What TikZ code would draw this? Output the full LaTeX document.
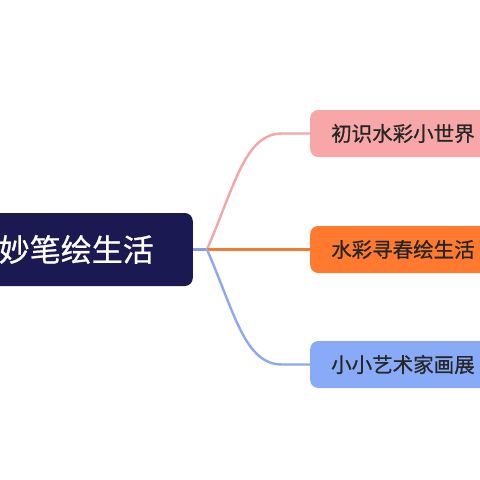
\documentclass[tikz,border=0pt]{standalone}
\usepackage{fontspec}
\newfontfamily\cjk{Noto Sans CJK SC}[FakeBold=0.8]
\definecolor{navy}{HTML}{1B1951}
\definecolor{pinkfill}{HTML}{F8A7A9}
\definecolor{orangefill}{HTML}{FF7A2F}
\definecolor{bluefill}{HTML}{88AAF7}
\definecolor{pinkline}{HTML}{F4A6A6}
\definecolor{orangeline}{HTML}{F47A30}
\definecolor{blueline}{HTML}{8FA8F2}
\definecolor{rootline}{HTML}{8E9AE4}
\begin{document}
\begin{tikzpicture}[x=1pt,y=-1pt,
  topic/.style={rounded corners=8pt, minimum height=47pt, inner xsep=21pt, anchor=west,
    font=\cjk\fontsize{20.5pt}{24pt}\selectfont, text=black!85},
  conn/.style={line width=2.4pt}]
\useasboundingbox (0,0) rectangle (480,480);
\fill[white] (0,0) rectangle (480,480);
\node[fill=navy, rounded corners=8pt, minimum height=73pt, inner xsep=39pt, anchor=east,
  font=\cjk\fontsize{31pt}{36pt}\selectfont, text=white] (root) at (193,249.5) {妙笔绘生活};
\node[topic, fill=pinkfill] (n1) at (310,133.5) {初识水彩小世界};
\node[topic, fill=orangefill] (n2) at (310,249.5) {水彩寻春绘生活};
\node[topic, fill=bluefill] (n3) at (310,364.5) {小小艺术家画展};
\coordinate (b) at (207,249.5);
\coordinate (p1) at (282,133.5);
\coordinate (p3) at (282,364.5);
\draw[conn, rootline] (root.east) -- (b);
\draw[conn, pinkline] (b) .. controls (235,185) and (245,133.5) .. (p1) -- (n1.west);
\draw[conn, orangeline] (b) -- (n2.west);
\draw[conn, blueline] (b) .. controls (235,314) and (245,364.5) .. (p3) -- (n3.west);
\end{tikzpicture}
\end{document}
